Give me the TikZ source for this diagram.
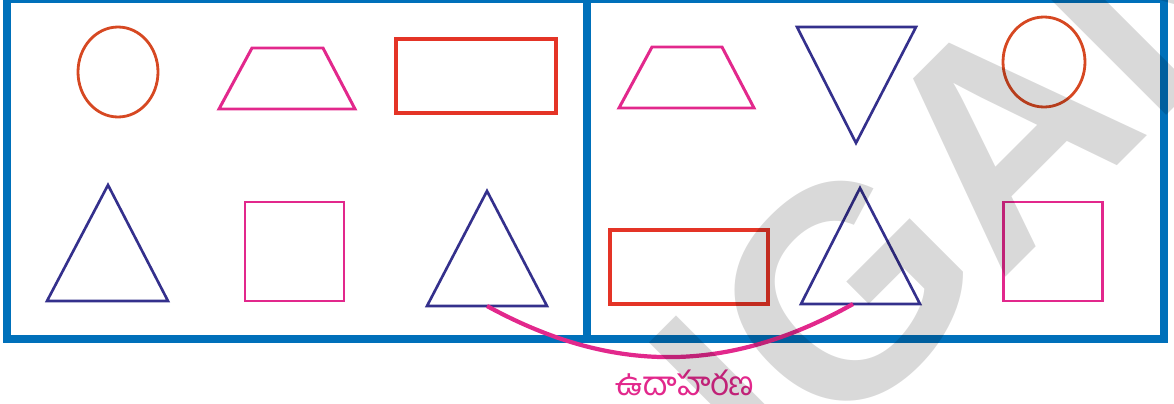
\documentclass[tikz,border=0pt]{standalone}
\usepackage{fontspec}
\setmainfont{Liberation Sans}
\newfontfamily\telugufont[Script=Telugu]{Hind Guntur}
\usetikzlibrary{positioning}
\definecolor{FrameBlue}{RGB}{0,112,186}
\definecolor{ShapeOrange}{RGB}{214,72,34}
\definecolor{ShapeRed}{RGB}{228,52,38}
\definecolor{ShapePink}{RGB}{226,40,140}
\definecolor{ShapeNavy}{RGB}{52,48,140}

\begin{document}
\begin{tikzpicture}[x=0.02cm,y=-0.02cm,
    frame/.style={draw=FrameBlue,line width=4.5pt},
    oval/.style={draw=ShapeOrange,line width=1.6pt},
    box/.style={draw=ShapeRed,line width=1.8pt},
    pinkbox/.style={draw=ShapePink,line width=1.7pt},
    tri/.style={draw=ShapeNavy,line width=1.5pt},
    link/.style={draw=ShapePink,line width=2.4pt},
    lbl/.style={text=ShapePink,font=\telugufont\fontsize{19}{23}\selectfont},
    stampstyle/.style={text=black,text opacity=0.15,
                 font=\fontsize{170}{170}\selectfont\bfseries}
  ]
  \useasboundingbox (0,0) rectangle (1174,403);
  % two panels
  \draw[frame] (7,-1) rectangle (1164,339);
  \draw[frame] (587,-1) -- (587,339);
  % left panel
  \draw[oval] (118,72) ellipse [x radius=40,y radius=45];
  \draw[pinkbox] (219,109)--(355,109)--(323,48)--(252,48)--cycle;
  \draw[box] (396,39) rectangle (556,113);
  \draw[tri] (108,185)--(168,301)--(47,301)--cycle;
  \draw[pinkbox] (245,202) rectangle (344,301);
  \draw[tri] (487,191)--(547,306)--(427,306)--cycle;
  \coordinate (leftbase) at (487,306);
  % right panel
  \draw[pinkbox] (619,108)--(754,108)--(722,47)--(652,47)--cycle;
  \draw[tri] (797,27)--(916,27)--(856,143)--cycle;
  \draw[oval] (1044,62) ellipse [x radius=41,y radius=45];
  \draw[box] (610,230) rectangle (768,304);
  \draw[tri] (860,188)--(920,304)--(801,304)--cycle;
  \draw[pinkbox] (1003,202) rectangle (1102,301);
  \coordinate (rightbase) at (853,304);
  % the pair
  \draw[link] (leftbase) to[bend right=29] (rightbase);
  \node[lbl] (example) at (685,383) {ఉదాహరణ};
  % watermark
  \node[stampstyle,rotate=45] (stamp) at (722,415) {TELANGANA};
\end{tikzpicture}
\end{document}
